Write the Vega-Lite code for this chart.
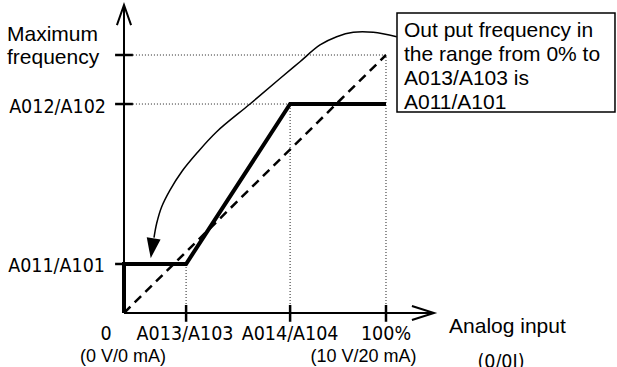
{
  "$schema": "https://vega.github.io/schema/vega-lite/v6.json",
  "width": 617,
  "height": 367,
  "padding": 0,
  "autosize": {"type": "none"},
  "background": "white",
  "config": {"view": {"stroke": null}},
  "datasets": {
    "paths": [
      {"series": "axisY", "i": 0, "x": 0, "y": 0},
      {"series": "axisY", "i": 1, "x": 0, "y": 119.4},
      {"series": "axisYarrow", "i": 0, "x": -2.7, "y": 111.6},
      {"series": "axisYarrow", "i": 1, "x": 0, "y": 119.4},
      {"series": "axisYarrow", "i": 2, "x": 2.7, "y": 111.6},
      {"series": "axisX", "i": 0, "x": 0, "y": 0},
      {"series": "axisX", "i": 1, "x": 118.3, "y": 0},
      {"series": "axisXarrow", "i": 0, "x": 109.9, "y": 2.7},
      {"series": "axisXarrow", "i": 1, "x": 118.3, "y": 0},
      {"series": "axisXarrow", "i": 2, "x": 109.9, "y": -2.7},
      {"series": "output", "i": 0, "x": 0, "y": 0},
      {"series": "output", "i": 1, "x": 0, "y": 19},
      {"series": "output", "i": 2, "x": 23.7, "y": 19},
      {"series": "output", "i": 3, "x": 63.4, "y": 81},
      {"series": "output", "i": 4, "x": 100, "y": 81},
      {"series": "standard", "i": 0, "x": 0, "y": 0},
      {"series": "standard", "i": 1, "x": 100, "y": 100},
      {"series": "callout", "i": 0, "x": 104.08, "y": 107.09},
      {"series": "callout", "i": 1, "x": 95.15, "y": 108.8},
      {"series": "callout", "i": 2, "x": 87.52, "y": 108.8},
      {"series": "callout", "i": 3, "x": 81.18, "y": 107.09},
      {"series": "callout", "i": 4, "x": 74.81, "y": 103.88},
      {"series": "callout", "i": 5, "x": 67.18, "y": 97.4},
      {"series": "callout", "i": 6, "x": 59.54, "y": 90.9},
      {"series": "callout", "i": 7, "x": 48.09, "y": 81.01},
      {"series": "callout", "i": 8, "x": 35.38, "y": 70.27},
      {"series": "callout", "i": 9, "x": 27.75, "y": 61.9},
      {"series": "callout", "i": 10, "x": 22.02, "y": 54.77},
      {"series": "callout", "i": 11, "x": 17.56, "y": 47.67},
      {"series": "callout", "i": 12, "x": 14.39, "y": 41.2},
      {"series": "callout", "i": 13, "x": 12.48, "y": 34.77},
      {"series": "callout", "i": 14, "x": 11.45, "y": 29.2}
    ],
    "rules": [
      {"kind": "guide", "x": 3.4, "x2": 100, "y": 100, "y2": 100},
      {"kind": "guide", "x": 3.4, "x2": 63.4, "y": 81, "y2": 81},
      {"kind": "guide", "x": 23.7, "x2": 23.7, "y": 0, "y2": 19},
      {"kind": "guide", "x": 63.4, "x2": 63.4, "y": 0, "y2": 81},
      {"kind": "guide", "x": 100, "x2": 100, "y": 0, "y2": 100},
      {"kind": "tick", "x": -3.4, "x2": 3.4, "y": 100, "y2": 100},
      {"kind": "tick", "x": -3.4, "x2": 3.4, "y": 81, "y2": 81},
      {"kind": "tick", "x": -3.4, "x2": 3.4, "y": 19, "y2": 19},
      {"kind": "tick", "x": 23.7, "x2": 23.7, "y": 3.1, "y2": -3.4},
      {"kind": "tick", "x": 63.4, "x2": 63.4, "y": 3.1, "y2": -3.4},
      {"kind": "tick", "x": 100, "x2": 100, "y": 3.1, "y2": -3.4}
    ],
    "arrowhead": [{"x": 10.76, "y": 25.08}],
    "box": [{"x": 104.2, "x2": 187.4, "y": 116.28, "y2": 77.91}],
    "labels": [
      {"role": "yTitle", "text": "Maximum", "x": -44.66, "y": 105.43},
      {"role": "yTitle", "text": "frequency", "x": -44.66, "y": 96.51},
      {"role": "yTick", "text": "A012/A102", "x": -6.87, "y": 77.52},
      {"role": "yTick", "text": "A011/A101", "x": -7.25, "y": 15.89},
      {"role": "xTick", "text": "0", "x": -6.87, "y": -10.47},
      {"role": "xTick", "text": "A013/A103", "x": 23.3, "y": -10.47},
      {"role": "xTick", "text": "A014/A104", "x": 63.4, "y": -10.47},
      {"role": "xTick", "text": "100%", "x": 100, "y": -10.47},
      {"role": "xTick", "text": "(0/0I)", "x": 143.89, "y": -21.32},
      {"role": "xSub", "text": "(0 V/0 mA)", "x": -0.38, "y": -18.99},
      {"role": "xSub", "text": "(10 V/20 mA)", "x": 91.41, "y": -18.99},
      {"role": "note", "text": "Analog input", "x": 124.05, "y": -7.75},
      {"role": "note", "text": "Out put frequency in", "x": 106.87, "y": 106.98},
      {"role": "note", "text": "the range from 0% to", "x": 106.87, "y": 97.67},
      {"role": "note", "text": "A013/A103 is", "x": 106.87, "y": 88.37},
      {"role": "note", "text": "A011/A101", "x": 106.87, "y": 79.07}
    ]
  },
  "encoding": {
    "x": {"field": "x", "type": "quantitative", "scale": {"domain": [-47.328, 188.168], "nice": false, "zero": false}, "axis": null},
    "y": {"field": "y", "type": "quantitative", "scale": {"domain": [-20.93, 121.318], "nice": false, "zero": false}, "axis": null}
  },
  "layer": [
    {
      "data": {"name": "rules"},
      "transform": [{"filter": "datum.kind === 'guide'"}],
      "mark": {"type": "rule", "color": "#222", "strokeWidth": 1, "strokeDash": [1, 2]},
      "encoding": {"x2": {"field": "x2"}, "y2": {"field": "y2"}}
    },
    {
      "data": {"name": "paths"},
      "transform": [{"filter": "datum.series === 'standard'"}],
      "mark": {"type": "line", "color": "black", "strokeWidth": 2.5, "strokeDash": [9, 6]},
      "encoding": {"order": {"field": "i", "type": "quantitative"}}
    },
    {
      "data": {"name": "paths"},
      "transform": [{"filter": "indexof(['axisY','axisYarrow','axisX','axisXarrow'], datum.series) >= 0"}],
      "mark": {"type": "line", "color": "black", "strokeWidth": 2, "strokeJoin": "miter"},
      "encoding": {"detail": {"field": "series"}, "order": {"field": "i", "type": "quantitative"}}
    },
    {
      "data": {"name": "rules"},
      "transform": [{"filter": "datum.kind === 'tick'"}],
      "mark": {"type": "rule", "color": "black", "strokeWidth": 2.5},
      "encoding": {"x2": {"field": "x2"}, "y2": {"field": "y2"}}
    },
    {
      "data": {"name": "paths"},
      "transform": [{"filter": "datum.series === 'output'"}],
      "mark": {"type": "line", "color": "black", "strokeWidth": 4, "strokeJoin": "miter", "strokeCap": "butt"},
      "encoding": {"order": {"field": "i", "type": "quantitative"}}
    },
    {
      "data": {"name": "paths"},
      "transform": [{"filter": "datum.series === 'callout'"}],
      "mark": {"type": "line", "color": "black", "strokeWidth": 1.5, "interpolate": "catmull-rom"},
      "encoding": {"order": {"field": "i", "type": "quantitative"}}
    },
    {
      "data": {"name": "arrowhead"},
      "mark": {"type": "point", "shape": "M -0.7 -1 L 0.7 -1 L 0 1 Z", "size": 400, "filled": true, "color": "black", "opacity": 1, "angle": 8.5, "strokeWidth": 0}
    },
    {
      "data": {"name": "box"},
      "mark": {"type": "rect", "fill": "white", "stroke": "black", "strokeWidth": 1.5},
      "encoding": {"x2": {"field": "x2"}, "y2": {"field": "y2"}}
    },
    {
      "data": {"name": "labels"},
      "transform": [{"filter": "datum.role === 'yTitle' || datum.role === 'note'"}],
      "mark": {"type": "text", "font": "Liberation Sans", "fontSize": 21, "align": "left", "baseline": "alphabetic", "color": "black"},
      "encoding": {"text": {"field": "text"}}
    },
    {
      "data": {"name": "labels"},
      "transform": [{"filter": "datum.role === 'yTick'"}],
      "mark": {"type": "text", "font": "DejaVu Sans Condensed, DejaVu Sans, sans-serif", "fontSize": 19.5, "align": "right", "baseline": "alphabetic", "color": "black"},
      "encoding": {"text": {"field": "text"}}
    },
    {
      "data": {"name": "labels"},
      "transform": [{"filter": "datum.role === 'xTick'"}],
      "mark": {"type": "text", "font": "DejaVu Sans Condensed, DejaVu Sans, sans-serif", "fontSize": 19.5, "align": "center", "baseline": "alphabetic", "color": "black"},
      "encoding": {"text": {"field": "text"}}
    },
    {
      "data": {"name": "labels"},
      "transform": [{"filter": "datum.role === 'xSub'"}],
      "mark": {"type": "text", "font": "Liberation Sans", "fontSize": 18, "align": "center", "baseline": "alphabetic", "color": "black"},
      "encoding": {"text": {"field": "text"}}
    }
  ]
}
